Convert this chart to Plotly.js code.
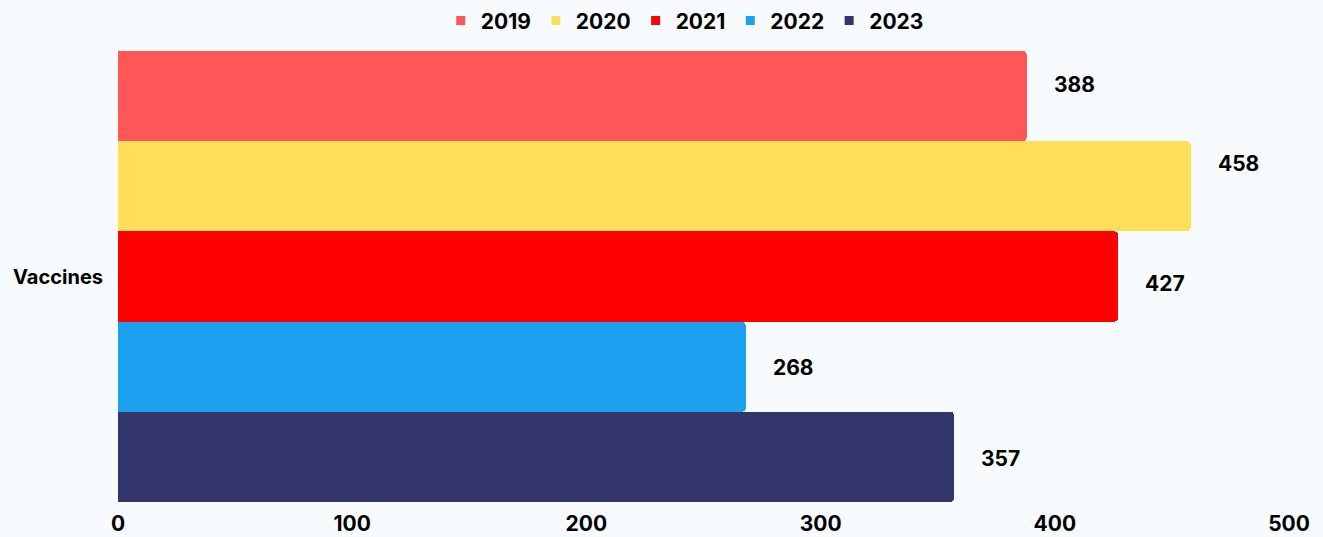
<!DOCTYPE html>
<html>
<head>
<meta charset="utf-8">
<script src="https://cdn.plot.ly/plotly-3.0.1.min.js"></script>
<style>html,body{margin:0;padding:0;background:#f8fbfd;}#chart{width:1323px;height:537px;}</style>
</head>
<body>
<div id="chart"></div>
<script>
const categories = ['Vaccines'];
const seriesNames = ['2019', '2020', '2021', '2022', '2023'];
const seriesValues = [[388], [458], [427], [268], [357]];
const seriesColors = ['#ff5757', '#ffde59', '#ff0000', '#1ca0f0', '#32366b'];
const xTicks = [0, 100, 200, 300, 400, 500];

// label vertical nudges (pixels) as seen in the reference
const labelNudge = [12, 23, -7, -1, -2];

const FONT = 'Inter, "Open Sans", sans-serif';
const n = seriesNames.length;

const barTraces = seriesNames.map((name, i) => ({
  type: 'bar',
  orientation: 'h',
  name: name,
  x: seriesValues[i],
  y: categories,
  marker: {color: seriesColors[i]},
  showlegend: false,
  hoverinfo: 'x+name'
}));

// legend-only square markers
const legendTraces = seriesNames.map((name, i) => ({
  type: 'scatter',
  mode: 'markers',
  name: name,
  x: [null],
  y: [null],
  marker: {symbol: 'square', size: 9, color: seriesColors[i]},
  showlegend: true,
  hoverinfo: 'skip'
}));

const annotations = [];
seriesNames.forEach((name, i) => {
  seriesValues[i].forEach((v, j) => {
    annotations.push({
      x: v,
      y: j - 0.5 + (i + 0.5) / n,
      xref: 'x', yref: 'y',
      text: String(v),
      showarrow: false,
      xanchor: 'left',
      xshift: 25,
      yshift: labelNudge[i],
      font: {family: FONT, size: 21, color: '#000000', weight: 700}
    });
  });
});

const layout = {
  width: 1323, height: 537,
  paper_bgcolor: '#f8fbfd',
  plot_bgcolor: '#f8fbfd',
  barmode: 'group',
  bargap: 0,
  bargroupgap: 0,
  barcornerradius: 4,
  margin: {l: 118, r: 34, t: 51, b: 35, autoexpand: false},
  showlegend: true,
  legend: {
    orientation: 'h',
    x: 0.484, xanchor: 'center',
    yref: 'container',
    y: 0.961, yanchor: 'middle',
    font: {family: FONT, size: 21, color: '#000000', weight: 700},
    traceorder: 'normal',
    itemwidth: 30,
    bgcolor: 'rgba(0,0,0,0)'
  },
  xaxis: {
    range: [0, 500],
    tickvals: xTicks,
    ticktext: xTicks.map(String),
    showgrid: false,
    zeroline: false,
    showline: false,
    ticks: '',
    ticklabelstandoff: 7,
    tickfont: {family: FONT, size: 21, color: '#000000', weight: 700},
    fixedrange: true,
    automargin: false
  },
  yaxis: {
    type: 'category',
    categoryarray: categories,
    autorange: 'reversed',
    showgrid: false,
    zeroline: false,
    showline: false,
    ticks: '',
    ticklabelstandoff: 14,
    tickfont: {family: FONT, size: 20, color: '#000000', weight: 700},
    fixedrange: true,
    automargin: false
  },
  annotations: annotations
};

Plotly.newPlot('chart', barTraces.concat(legendTraces), layout, {displayModeBar: false, staticPlot: true});
</script>
</body>
</html>
